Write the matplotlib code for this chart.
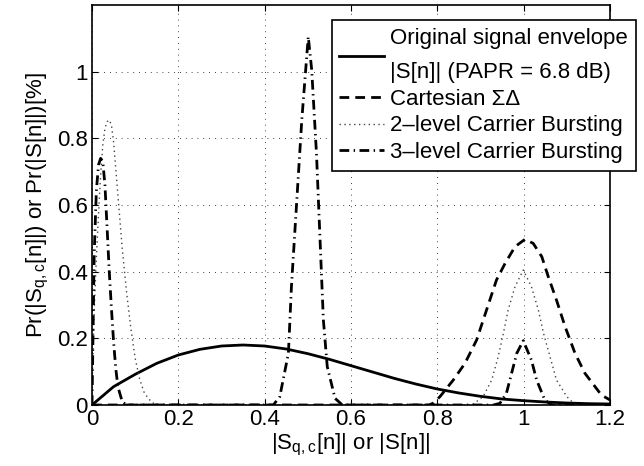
import matplotlib
matplotlib.use("Agg")
import matplotlib.pyplot as plt

plt.rcParams['font.family'] = ['Liberation Sans', 'DejaVu Sans']
plt.rcParams['mathtext.default'] = 'regular'
plt.rcParams['font.size'] = 16

# original signal envelope |S[n]|
env_x = [0, 0.05, 0.1, 0.15, 0.2, 0.25, 0.3, 0.35, 0.4, 0.45, 0.5, 0.55, 0.6,
         0.65, 0.7, 0.75, 0.8, 0.85, 0.9, 0.95, 1.0, 1.05, 1.1, 1.15, 1.2]
env_y = [0, 0.055, 0.092, 0.125, 0.150, 0.167, 0.177, 0.180, 0.177, 0.168, 0.154,
         0.137, 0.118, 0.099, 0.080, 0.063, 0.048, 0.036, 0.026, 0.018, 0.013,
         0.009, 0.006, 0.004, 0.003]

# Cartesian sigma-delta
cart_x = [0, 0.78, 0.79, 0.806, 0.837, 0.864, 0.891, 0.914, 0.937, 0.957, 0.98,
          1.003, 1.022, 1.042, 1.057, 1.076, 1.096, 1.119, 1.142, 1.18, 1.2]
cart_y = [0, 0, 0.005, 0.025, 0.075, 0.125, 0.195, 0.285, 0.375, 0.425, 0.475,
          0.497, 0.485, 0.445, 0.385, 0.315, 0.235, 0.155, 0.095, 0.03, 0.015]

# 2-level carrier bursting
cb2_x = [0, 0.005, 0.01, 0.015, 0.02, 0.025, 0.03, 0.035, 0.04, 0.045, 0.05, 0.06,
         0.07, 0.08, 0.09, 0.1, 0.11, 0.12, 0.13, 0.14, 0.15, 0.88,
         0.906, 0.926, 0.941, 0.953, 0.964, 0.98, 0.999, 1.018, 1.034, 1.046,
         1.061, 1.076, 1.1, 1.12, 1.2]
cb2_y = [0.05, 0.28, 0.44, 0.57, 0.69, 0.78, 0.83, 0.85, 0.855, 0.84, 0.79, 0.63,
         0.47, 0.34, 0.23, 0.14, 0.08, 0.04, 0.02, 0.007, 0, 0,
         0.025, 0.075, 0.145, 0.215, 0.285, 0.355, 0.405, 0.355, 0.285, 0.215,
         0.145, 0.075, 0.025, 0, 0]

# 3-level carrier bursting
cb3_x = [0, 0.005, 0.01, 0.015, 0.02, 0.025, 0.03, 0.035, 0.04, 0.045, 0.05, 0.055,
         0.06, 0.07, 0.08, 0.42, 0.435, 0.455, 0.462, 0.474, 0.486, 0.501, 0.509,
         0.52, 0.528, 0.536, 0.545, 0.563, 0.58, 0.93, 0.945, 0.96, 0.972, 0.984,
         0.999, 1.018, 1.03, 1.049, 1.065, 1.2]
cb3_y = [0, 0.45, 0.64, 0.72, 0.74, 0.73, 0.66, 0.53, 0.40, 0.29, 0.19, 0.11,
         0.055, 0.01, 0, 0, 0.025, 0.155, 0.355, 0.605, 0.855, 1.105, 1.005,
         0.755, 0.505, 0.255, 0.115, 0.02, 0, 0, 0.005, 0.035, 0.095, 0.155,
         0.193, 0.135, 0.075, 0.015, 0, 0]

xticks = [0, 0.2, 0.4, 0.6, 0.8, 1, 1.2]
xtick_labels = ['0', '0.2', '0.4', '0.6', '0.8', '1', '1.2']
yticks = [0, 0.2, 0.4, 0.6, 0.8, 1]
ytick_labels = ['0', '0.2', '0.4', '0.6', '0.8', '1']

fig = plt.figure(figsize=(6.44, 4.66), dpi=100)
ax = fig.add_axes([92 / 644, 61 / 466, 518 / 644, 400 / 466])

ax.plot(env_x, env_y, color='black', lw=2.0, ls='-',
        label='Original signal envelope\n|S[n]| (PAPR = 6.8 dB)')
ax.plot(cart_x, cart_y, color='black', lw=2.0, ls=(0, (3.5, 2.2)),
        label='Cartesian ΣΔ')
ax.plot(cb2_x, cb2_y, color='#444444', lw=1.0, ls=(0, (1, 2.5)),
        label='2–level Carrier Bursting')
ax.plot(cb3_x, cb3_y, color='black', lw=2.0, ls=(0, (3.5, 1.6, 0.5, 1.6)),
        label='3–level Carrier Bursting')

ax.set_xlim(0, 1.2)
ax.set_ylim(0, 1.2)
ax.set_xticks(xticks)
ax.set_xticklabels(xtick_labels)
ax.set_yticks(yticks)
ax.set_yticklabels(ytick_labels)
ax.tick_params(direction='in', top=True, right=True, length=4, width=0.8,
               labelsize=16, pad=3)
ax.grid(True, ls=(0, (1, 6)), color='black', lw=0.6)
for s in ax.spines.values():
    s.set_linewidth(1.2)

ax.set_xlabel('|S$_{q,c}$[n]| or |S[n]|', fontsize=16, labelpad=1)
ax.set_ylabel('Pr(|S$_{q,c}$[n]|) or Pr(|S[n]|)[%]', fontsize=16, labelpad=4)

leg = ax.legend(loc='upper right', bbox_to_anchor=(636 / 644, 446 / 466),
                bbox_transform=fig.transFigure, fontsize=16, frameon=True,
                fancybox=False, framealpha=1, edgecolor='black',
                handlelength=2.0, handletextpad=0.3, labelspacing=0.25,
                borderpad=0.35, borderaxespad=0)
leg.get_frame().set_linewidth(1.2)
leg.get_texts()[0].set_linespacing(1.85)

fig.savefig('out.png', dpi=100)
